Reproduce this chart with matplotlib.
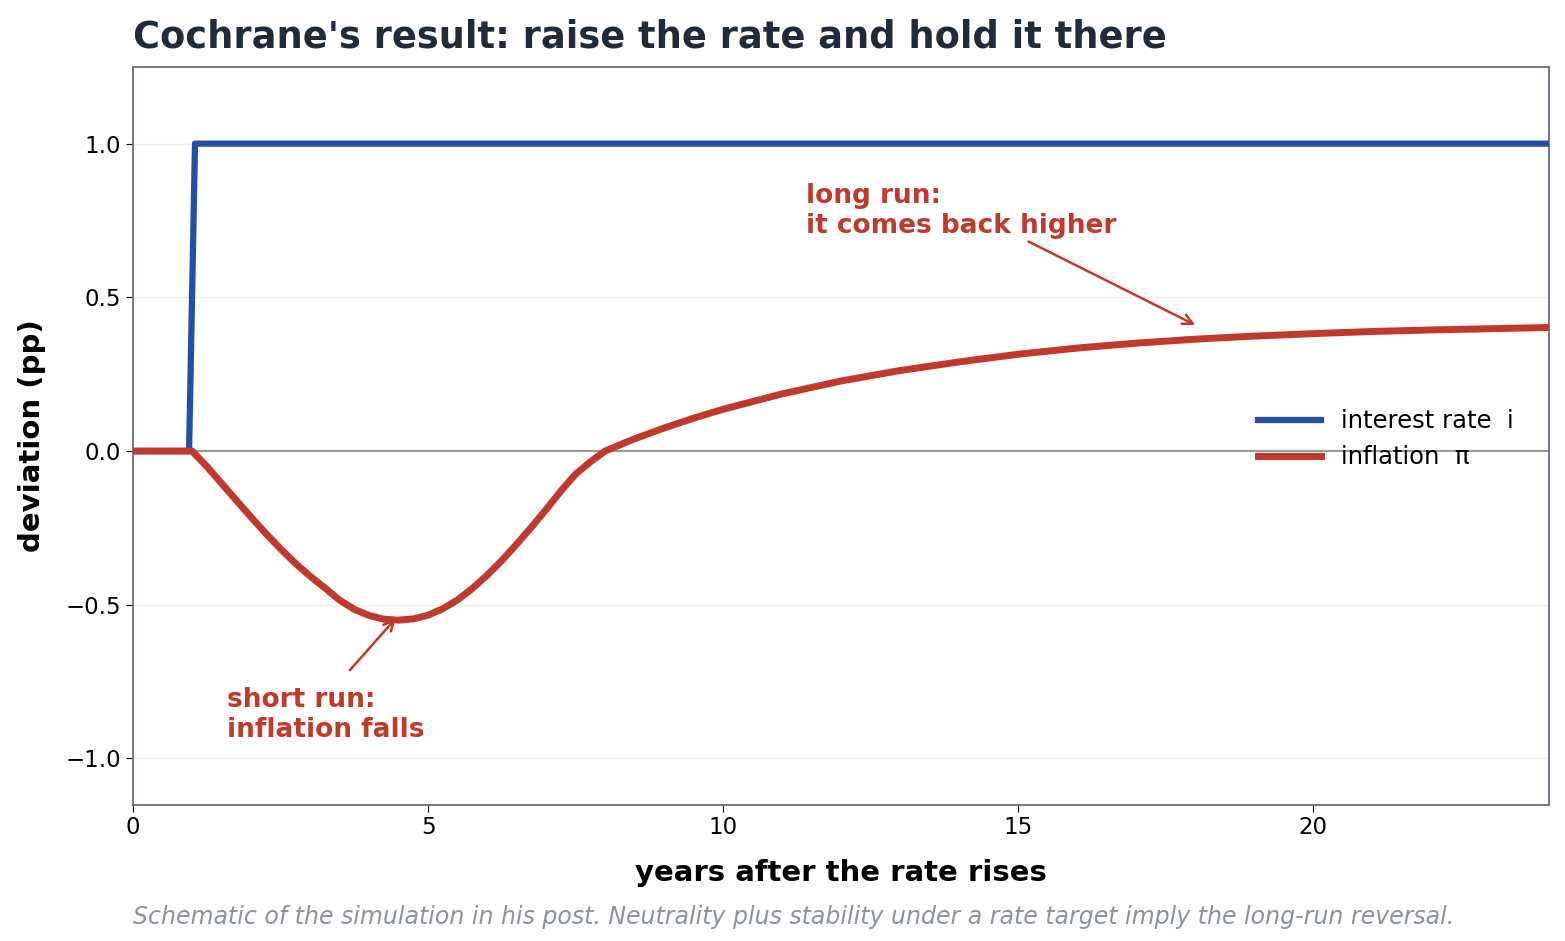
import matplotlib
matplotlib.use("Agg")
import matplotlib.pyplot as plt

# interest rate path
rate_t = [0, 0.95, 1.05, 24]
rate_v = [0, 0, 1.0, 1.0]

# inflation path
infl_t = [0, 1, 1.25, 1.5, 1.75, 2, 2.25, 2.5, 2.75, 3, 3.25, 3.5, 3.75, 4, 4.25,
          4.5, 4.75, 5, 5.25, 5.5, 5.75, 6, 6.25, 6.5, 6.75, 7, 7.25, 7.5, 7.75, 8,
          8.5, 9, 9.5, 10, 11, 12, 13, 14, 15, 16, 17, 18, 19, 20, 21, 22, 23, 24]
infl_v = [0, 0, -0.05, -0.105, -0.16, -0.215, -0.268, -0.318, -0.365, -0.407,
          -0.445, -0.485, -0.515, -0.535, -0.547, -0.55, -0.546, -0.534, -0.513,
          -0.484, -0.447, -0.404, -0.356, -0.303, -0.248, -0.19, -0.13, -0.075,
          -0.035, 0, 0.04, 0.075, 0.107, 0.136, 0.186, 0.228, 0.262, 0.29, 0.315,
          0.335, 0.351, 0.364, 0.374, 0.382, 0.389, 0.394, 0.398, 0.402]

blue = "#2250a8"
red = "#c0392b"

fig = plt.figure(figsize=(15.65, 9.41), dpi=100)
ax = fig.add_axes([0.085, 0.145, 0.905, 0.784])

ax.axhline(0, color="#888888", lw=1.2, zorder=1)
ax.plot(rate_t, rate_v, color=blue, lw=4.5, label="interest rate  i", zorder=3)
ax.plot(infl_t, infl_v, color=red, lw=5, label="inflation  π", zorder=3)

ax.set_xlim(0, 24)
ax.set_ylim(-1.15, 1.25)
ax.set_yticks([-1.0, -0.5, 0.0, 0.5, 1.0])
ax.set_xticks([0, 5, 10, 15, 20])
ax.grid(axis="y", color="#eeeeee", lw=1)
ax.set_axisbelow(True)
for s in ax.spines.values():
    s.set_color("#5a6475")
    s.set_linewidth(1.2)
ax.tick_params(labelsize=16.5, length=5)

ax.set_xlabel("years after the rate rises", fontsize=21, fontweight="bold", labelpad=14)
ax.set_ylabel("deviation (pp)", fontsize=21, fontweight="bold", labelpad=14)
ax.set_title("Cochrane's result: raise the rate and hold it there", loc="left",
             fontsize=26.5, fontweight="bold", color="#1f2a3a", pad=14)

ax.annotate("long run:\nit comes back higher", xy=(18, 0.41), xytext=(11.4, 0.71),
            fontsize=19, fontweight="bold", color=red,
            arrowprops=dict(arrowstyle="->", color=red, lw=1.8, mutation_scale=18,
                            shrinkA=0, shrinkB=0, relpos=(0.7, 0)))
ax.annotate("short run:\ninflation falls", xy=(4.45, -0.545), xytext=(1.6, -0.93),
            fontsize=19, fontweight="bold", color=red,
            arrowprops=dict(arrowstyle="->", color=red, lw=1.8, mutation_scale=18,
                            shrinkA=0, shrinkB=0, relpos=(0.62, 1.3)))

ax.legend(loc="center right", bbox_to_anchor=(0.99, 0.495), frameon=False,
          fontsize=17.5, handlelength=2.6)

fig.text(0.085, 0.018, "Schematic of the simulation in his post. Neutrality plus stability "
         "under a rate target imply the long-run reversal.",
         fontsize=17, style="italic", color="#8a939e")

fig.savefig("out.png", dpi=100)
